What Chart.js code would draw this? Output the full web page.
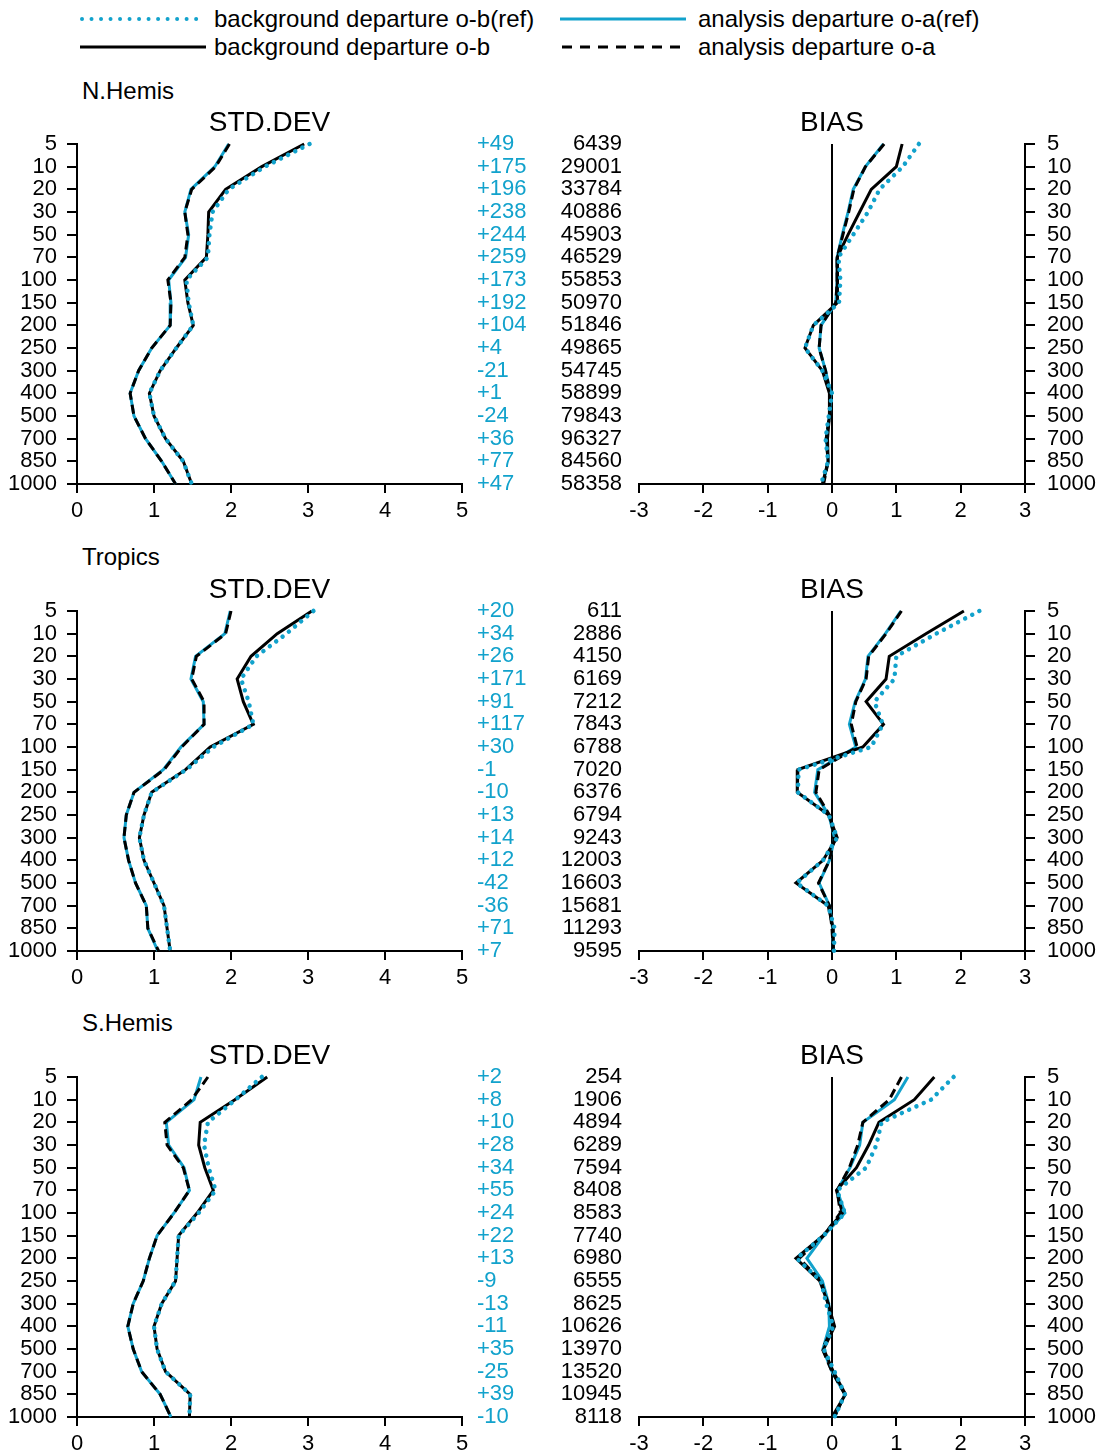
<!DOCTYPE html>
<html>
<head>
<meta charset="utf-8">
<script src="https://cdn.jsdelivr.net/npm/chart.js@4.4.0/dist/chart.umd.min.js"></script>
<style>
  body { margin: 0; background: #fff; width: 1102px; height: 1455px; position: relative; overflow: hidden;
         font-family: 'Liberation Sans', Arial, Helvetica, sans-serif; color: #000; }
  canvas { position: absolute; }
  .txt { position: absolute; font-size: 24px; line-height: 28px; white-space: nowrap; }
</style>
</head>
<body>

<svg style="position:absolute;left:0;top:0" width="1102" height="62">
  <line x1="82" y1="19" x2="205" y2="19" stroke="#12a2cc" stroke-width="4" stroke-linecap="round" stroke-dasharray="0.01 9.5"/>
  <line x1="560" y1="19" x2="686" y2="19" stroke="#12a2cc" stroke-width="3"/>
  <line x1="80" y1="47" x2="206" y2="47" stroke="#000" stroke-width="3"/>
  <line x1="562" y1="47" x2="688" y2="47" stroke="#000" stroke-width="3" stroke-dasharray="10 8"/>
</svg>
<div class="txt" style="left:214px;top:5px">background departure o-b(ref)</div>
<div class="txt" style="left:698px;top:5px">analysis departure o-a(ref)</div>
<div class="txt" style="left:214px;top:33px">background departure o-b</div>
<div class="txt" style="left:698px;top:33px">analysis departure o-a</div>

<div class="txt" style="left:82px;top:77px">N.Hemis</div>
<div class="txt" style="left:82px;top:543px">Tropics</div>
<div class="txt" style="left:82px;top:1009px">S.Hemis</div>

<canvas id="std0" width="560" height="420" style="left:0;top:102px"></canvas>
<canvas id="bias0" width="542" height="420" style="left:560px;top:102px"></canvas>
<canvas id="std1" width="560" height="420" style="left:0;top:569px"></canvas>
<canvas id="bias1" width="542" height="420" style="left:560px;top:569px"></canvas>
<canvas id="std2" width="560" height="420" style="left:0;top:1035px"></canvas>
<canvas id="bias2" width="542" height="420" style="left:560px;top:1035px"></canvas>

<script>
const levels = ['5','10','20','30','50','70','100','150','200','250','300','400','500','700','850','1000']

// N.Hemis
const nhDeltas = ['+49','+175','+196','+238','+244','+259','+173','+192','+104','+4','-21','+1','-24','+36','+77','+47']
const nhCounts = ['6439','29001','33784','40886','45903','46529','55853','50970','51846','49865','54745','58899','79843','96327','84560','58358']
const nhStdAn    = [1.98,1.80,1.49,1.40,1.44,1.40,1.18,1.22,1.21,0.97,0.80,0.69,0.74,0.89,1.10,1.28]
const nhStdAnRef = [1.97,1.79,1.48,1.40,1.45,1.41,1.19,1.22,1.21,0.97,0.80,0.69,0.74,0.89,1.10,1.28]
const nhStdBg    = [2.95,2.40,1.93,1.71,1.70,1.68,1.40,1.44,1.51,1.29,1.08,0.94,1.00,1.15,1.38,1.49]
const nhStdBgRef = [3.02,2.44,1.97,1.76,1.72,1.70,1.42,1.45,1.51,1.29,1.08,0.94,1.00,1.15,1.38,1.49]
const nhBiasAn    = [0.81,0.52,0.34,0.26,0.17,0.08,0.08,0.06,-0.17,-0.20,-0.10,-0.03,-0.04,-0.09,-0.06,-0.13]
const nhBiasAnRef = [0.80,0.52,0.33,0.25,0.16,0.08,0.08,0.06,-0.17,-0.20,-0.10,-0.02,-0.04,-0.09,-0.06,-0.14]
const nhBiasBg    = [1.09,1.00,0.61,0.43,0.25,0.08,0.09,0.08,-0.29,-0.42,-0.15,-0.04,-0.04,-0.07,-0.06,-0.15]
const nhBiasBgRef = [1.35,1.10,0.74,0.56,0.33,0.10,0.13,0.11,-0.29,-0.42,-0.15,0.00,-0.05,-0.10,-0.06,-0.17]

// Tropics
const trDeltas = ['+20','+34','+26','+171','+91','+117','+30','-1','-10','+13','+14','+12','-42','-36','+71','+7']
const trCounts = ['611','2886','4150','6169','7212','7843','6788','7020','6376','6794','9243','12003','16603','15681','11293','9595']
const trStdAn    = [2.00,1.93,1.55,1.49,1.65,1.65,1.36,1.13,0.74,0.64,0.61,0.67,0.76,0.90,0.92,1.06]
const trStdAnRef = [1.99,1.92,1.54,1.48,1.64,1.65,1.35,1.12,0.74,0.64,0.61,0.67,0.76,0.90,0.92,1.05]
const trStdBg    = [3.05,2.60,2.26,2.08,2.16,2.29,1.73,1.41,0.97,0.87,0.81,0.87,1.00,1.13,1.17,1.21]
const trStdBgRef = [3.07,2.72,2.33,2.13,2.23,2.29,1.77,1.42,0.97,0.87,0.81,0.87,1.00,1.13,1.17,1.21]
const trBiasAn    = [1.08,0.84,0.57,0.53,0.37,0.30,0.39,-0.20,-0.25,-0.04,0.04,-0.04,-0.21,-0.04,0.00,0.02]
const trBiasAnRef = [1.07,0.83,0.56,0.52,0.36,0.27,0.37,-0.22,-0.27,-0.05,0.04,-0.04,-0.20,-0.04,0.01,0.02]
const trBiasBg    = [2.05,1.46,0.89,0.84,0.53,0.80,0.48,-0.53,-0.54,-0.05,0.08,-0.14,-0.56,-0.06,0.02,0.02]
const trBiasBgRef = [2.29,1.62,1.00,0.97,0.66,0.79,0.61,-0.52,-0.53,-0.05,0.08,-0.14,-0.55,-0.06,0.04,0.03]

// S.Hemis
const shDeltas = ['+2','+8','+10','+28','+34','+55','+24','+22','+13','-9','-13','-11','+35','-25','+39','-10']
const shCounts = ['254','1906','4894','6289','7594','8408','8583','7740','6980','6555','8625','10626','13970','13520','10945','8118']
const shStdAn    = [1.70,1.49,1.14,1.17,1.38,1.46,1.26,1.04,0.94,0.86,0.73,0.66,0.73,0.84,1.08,1.22]
const shStdAnRef = [1.61,1.52,1.16,1.19,1.39,1.46,1.26,1.04,0.94,0.86,0.73,0.66,0.73,0.84,1.08,1.22]
const shStdBg    = [2.47,2.05,1.60,1.58,1.66,1.77,1.56,1.32,1.30,1.28,1.10,1.00,1.04,1.15,1.47,1.46]
const shStdBgRef = [2.40,2.06,1.70,1.65,1.71,1.80,1.58,1.32,1.30,1.28,1.10,1.00,1.04,1.15,1.47,1.46]
const shBiasAn    = [1.08,0.89,0.48,0.40,0.27,0.08,0.13,-0.13,-0.51,-0.17,-0.06,0.02,-0.15,0.00,0.20,0.04]
const shBiasAnRef = [1.18,0.97,0.48,0.43,0.28,0.08,0.20,-0.13,-0.39,-0.15,-0.05,-0.04,-0.14,0.00,0.20,0.04]
const shBiasBg    = [1.59,1.28,0.73,0.57,0.38,0.07,0.16,-0.14,-0.56,-0.19,-0.06,0.04,-0.13,0.02,0.21,0.00]
const shBiasBgRef = [1.89,1.54,0.77,0.69,0.53,0.08,0.20,-0.13,-0.55,-0.17,-0.09,0.02,-0.13,0.04,0.20,0.04]

const CYAN = '#12a2cc'
const FONT = "'Liberation Sans', Arial, Helvetica, sans-serif"
const tickFont = {family: FONT, size: 22, lineHeight: 1.2}

function lineSets(an, anRef, bg, bgRef){
    return [
        {data: bgRef, borderColor: CYAN, borderWidth: 4.5, borderDash: [0.01, 8], borderCapStyle: 'round', order: 0},
        {data: bg, borderColor: '#000', borderWidth: 3, order: 1},
        {data: an, borderColor: '#000', borderWidth: 3, borderDash: [9, 5], order: 2},
        {data: anRef, borderColor: CYAN, borderWidth: 3, order: 3}
    ].map(d => Object.assign({pointRadius: 0, tension: 0, fill: false, clip: false}, d))
}

function baseOptions(title){
    return {
        indexAxis: 'y',
        responsive: false,
        animation: false,
        devicePixelRatio: 1,
        layout: {padding: 0},
        plugins: {
            legend: {display: false},
            tooltip: {enabled: false},
            title: {display: true, text: title, fullSize: false, color: '#000',
                font: {family: FONT, size: 28, weight: 'normal', lineHeight: 1.2},
                padding: {top: 4, bottom: 4.4}}
        }
    }
}

function stdChart(id, an, anRef, bg, bgRef, deltas){
    let opts = baseOptions('STD.DEV')
    opts.scales = {
        x: {type: 'linear', min: 0, max: 5,
            ticks: {stepSize: 1, color: '#000', font: tickFont, padding: 5},
            grid: {drawOnChartArea: false, tickLength: 9, color: '#000', lineWidth: 2},
            border: {color: '#000', width: 2},
            afterFit: s => { s.height = 38 }},
        y: {type: 'category', position: 'left',
            ticks: {autoSkip: false, color: '#000', font: tickFont, padding: 10},
            grid: {drawOnChartArea: false, tickLength: 10, color: '#000', lineWidth: 2},
            border: {color: '#000', width: 2},
            afterFit: s => { s.width = 77 }},
        yd: {type: 'category', axis: 'y', position: 'right', labels: deltas,
            ticks: {autoSkip: false, color: CYAN, font: tickFont, padding: 15},
            grid: {display: false, drawTicks: false},
            border: {display: false},
            afterFit: s => { s.width = 98 }}
    }
    return new Chart(document.getElementById(id), {
        type: 'line',
        data: {labels: levels, datasets: lineSets(an, anRef, bg, bgRef)},
        options: opts
    })
}

function biasChart(id, an, anRef, bg, bgRef, counts){
    let opts = baseOptions('BIAS')
    opts.scales = {
        x: {type: 'linear', min: -3, max: 3,
            ticks: {stepSize: 1, color: '#000', font: tickFont, padding: 5},
            grid: {drawOnChartArea: true, tickLength: 9, tickColor: '#000', tickWidth: 2,
                color: c => c.tick && c.tick.value === 0 ? '#000' : 'rgba(0,0,0,0)',
                lineWidth: c => c.tick && c.tick.value === 0 ? 2 : 0},
            border: {color: '#000', width: 2},
            afterFit: s => { s.height = 38 }},
        y: {type: 'category', position: 'right',
            ticks: {autoSkip: false, color: '#000', font: tickFont, padding: 12},
            grid: {drawOnChartArea: false, tickLength: 10, color: '#000', lineWidth: 2},
            border: {color: '#000', width: 2},
            afterFit: s => { s.width = 77 }},
        yc: {type: 'category', axis: 'y', position: 'left', labels: counts,
            ticks: {autoSkip: false, color: '#000', font: tickFont, padding: 17},
            grid: {display: false, drawTicks: false},
            border: {display: false},
            afterFit: s => { s.width = 79 }}
    }
    return new Chart(document.getElementById(id), {
        type: 'line',
        data: {labels: levels, datasets: lineSets(an, anRef, bg, bgRef)},
        options: opts
    })
}

stdChart('std0', nhStdAn, nhStdAnRef, nhStdBg, nhStdBgRef, nhDeltas)
biasChart('bias0', nhBiasAn, nhBiasAnRef, nhBiasBg, nhBiasBgRef, nhCounts)
stdChart('std1', trStdAn, trStdAnRef, trStdBg, trStdBgRef, trDeltas)
biasChart('bias1', trBiasAn, trBiasAnRef, trBiasBg, trBiasBgRef, trCounts)
stdChart('std2', shStdAn, shStdAnRef, shStdBg, shStdBgRef, shDeltas)
biasChart('bias2', shBiasAn, shBiasAnRef, shBiasBg, shBiasBgRef, shCounts)
</script>
</body>
</html>
